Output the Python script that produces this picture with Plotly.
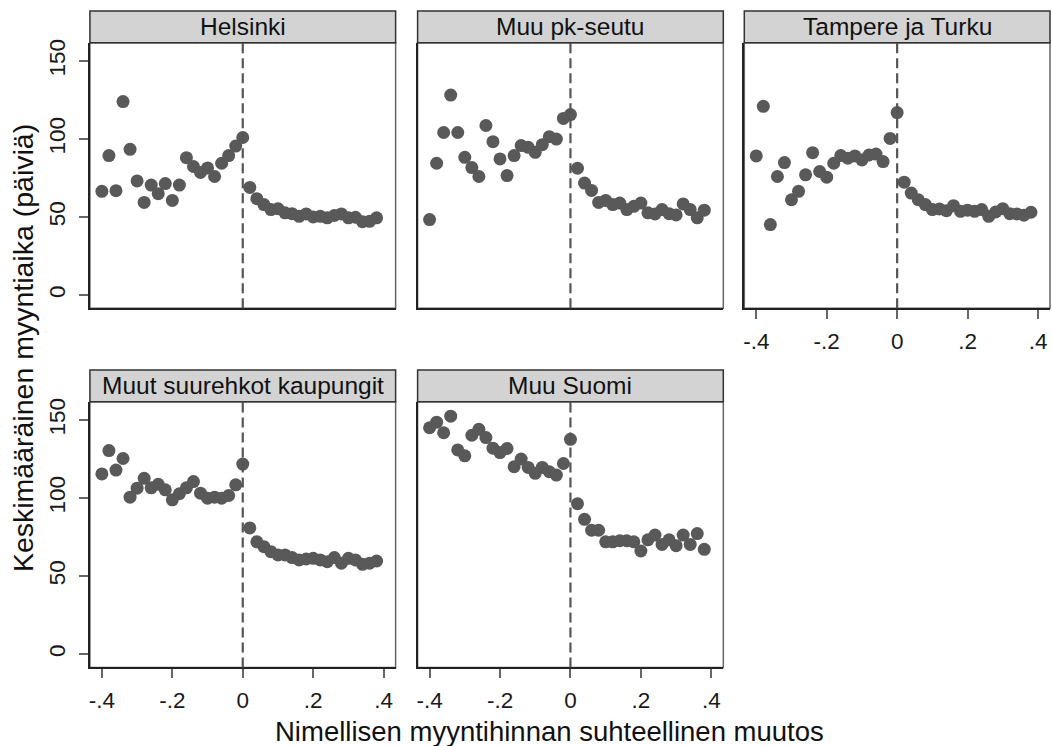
import plotly.graph_objects as go

x_vals = [round(-0.40 + 0.02 * i, 2) for i in range(40)]

panel_names = ["Helsinki", "Muu pk-seutu", "Tampere ja Turku",
               "Muut suurehkot kaupungit", "Muu Suomi"]

helsinki = [66.5, 89.4, 66.9, 124, 93.4, 73.2, 59.4, 70.5, 65, 71.5,
            60.7, 70.5, 88.1, 82.4, 78.6, 81.5, 76, 84.5, 89.4, 95.5,
            101, 69, 61.8, 58, 54.8, 55.4, 52.7, 52.2, 50.5, 52,
            50.1, 50.5, 49.5, 51, 52, 49.5, 49.9, 47, 47.3, 49.5]
muu_pk = [48.4, 84.5, 104.2, 128.2, 104.2, 88.3, 81.7, 76, 108.7, 98.3,
          87.3, 76.6, 89.4, 95.8, 94.7, 91.5, 96.4, 101.5, 100, 113.2,
          115.7, 81.3, 71.8, 67.1, 59.4, 60.7, 58, 59, 54.8, 56.9,
          59, 52.7, 52, 54.8, 52.2, 51.4, 58.4, 54.8, 49.5, 54.4]
tampere_turku = [89.2, 121, 45.2, 76, 84.9, 61.1, 66.5, 77.1, 91.3, 79.2,
                 75.6, 84.5, 89.4, 87.7, 89.2, 86.6, 89.8, 90.4, 85.6, 100.4,
                 117, 72.4, 65.4, 61.1, 58, 54.8, 55.2, 54.1, 57.3, 53.7,
                 54.4, 53.7, 54.8, 50.5, 53.3, 55.4, 52.2, 52, 51.2, 53.1]
muut_suurehkot = [115.5, 130.5, 118, 125.4, 100.6, 106.4, 112.7, 106.6, 108.9, 105.3,
                  98.9, 102.8, 106.6, 110.6, 103.2, 100, 100.6, 100, 101.7, 108.5,
                  121.8, 80.9, 72, 68.9, 65.7, 63.6, 63.6, 61.9, 60.4, 61,
                  61.4, 60.4, 59.3, 61.9, 58.3, 61.4, 60.4, 57.6, 58.3, 59.7]
muu_suomi = [145.1, 148.7, 141.9, 152.5, 130.9, 127.1, 140.3, 144.1, 138.8, 132,
             129.2, 131.8, 120.1, 125, 119.7, 115.9, 119.7, 116.9, 114.8, 122.2,
             137.7, 96.4, 86.4, 79.4, 79.4, 72, 72, 72.7, 72.7, 72,
             66.1, 73.3, 76.3, 70.3, 73.3, 69.5, 76.3, 70.3, 77.3, 67.2]

series = [helsinki, muu_pk, tampere_turku, muut_suurehkot, muu_suomi]

x_tickvals = [-0.4, -0.2, 0, 0.2, 0.4]
x_ticktext = ["-.4", "-.2", "0", ".2", ".4"]
y_tickvals = [0, 50, 100, 150]
y_ticktext = ["0", "50", "100", "150"]

W, H = 1052, 746
# panel pixel boxes (left, right, top, bottom)
col_px = [(89, 395), (417, 723), (744, 1050)]
row_px = [(39, 306), (400, 667)]
header_h = 32

positions = [(0, 0), (0, 1), (0, 2), (1, 0), (1, 1)]
show_x = [False, False, True, True, True]
show_y = [True, False, False, True, False]

FONT = "Liberation Sans, Arial, sans-serif"
MARK = "#595959"

fig = go.Figure()
layout = dict(
    width=W, height=H, margin=dict(l=0, r=0, t=0, b=0),
    paper_bgcolor="white", plot_bgcolor="white", showlegend=False,
    font=dict(family=FONT, color="#1a1a1a"),
)
shapes = []
annotations = []

for i, (r, c) in enumerate(positions):
    idx = "" if i == 0 else str(i + 1)
    xa, ya = "x" + idx, "y" + idx
    l, rr = col_px[c]
    t, b = row_px[r]
    fig.add_trace(go.Scatter(
        x=x_vals, y=series[i], mode="markers", xaxis=xa, yaxis=ya,
        marker=dict(size=13, color=MARK, line=dict(width=0)),
        hoverinfo="x+y",
    ))
    layout["xaxis" + idx] = dict(
        domain=[l / W, rr / W], anchor=ya, range=[-0.434, 0.434],
        showgrid=False, zeroline=False, showline=True, linecolor="#222",
        linewidth=2, mirror=False,
        tickvals=x_tickvals if show_x[i] else [], ticktext=x_ticktext,
        ticks="outside" if show_x[i] else "", ticklen=9, tickwidth=1.5,
        tickcolor="#666", showticklabels=show_x[i],
        tickfont=dict(size=22.5, family=FONT, color="#1a1a1a"),
        ticklabelstandoff=3,
    )
    layout["yaxis" + idx] = dict(
        domain=[1 - b / H, 1 - t / H], anchor=xa, range=[-8.5, 161.7],
        showgrid=False, zeroline=False, showline=True, linecolor="#222",
        linewidth=2, mirror=False,
        tickvals=y_tickvals if show_y[i] else [], ticktext=y_ticktext,
        ticks="outside" if show_y[i] else "", ticklen=9, tickwidth=1.5,
        tickcolor="#666", showticklabels=show_y[i], tickangle=-90,
        tickfont=dict(size=22.5, family=FONT, color="#1a1a1a"),
        ticklabelstandoff=5,
    )
    # gray frame (top/right)
    shapes.append(dict(type="rect", xref=xa + " domain", yref=ya + " domain",
                       x0=0, x1=1, y0=0, y1=1,
                       line=dict(color="#666", width=1.5), layer="below"))
    # dashed vertical line at zero
    shapes.append(dict(type="line", xref=xa, yref=ya + " domain",
                       x0=0, x1=0, y0=0, y1=1,
                       line=dict(color="#555", width=2.2, dash="10px,5px")))
    # header box
    shapes.append(dict(type="rect", xref="paper", yref="paper",
                       x0=l / W, x1=rr / W, y0=1 - t / H, y1=1 - (t - header_h) / H,
                       fillcolor="#d3d3d3", line=dict(color="#333", width=1.5)))
    annotations.append(dict(text=panel_names[i], xref="paper", yref="paper",
                            x=(l + rr) / 2 / W, y=1 - (t - header_h / 2) / H,
                            xanchor="center", yanchor="middle", showarrow=False,
                            font=dict(size=24.5, family=FONT, color="#111")))

annotations.append(dict(text="Keskimääräinen myyntiaika (päiviä)", xref="paper", yref="paper",
                        x=22 / W, y=1 - 346 / H, textangle=-90, showarrow=False,
                        xanchor="center", yanchor="middle",
                        font=dict(size=28.5, family=FONT, color="#111")))
annotations.append(dict(text="Nimellisen myyntihinnan suhteellinen muutos", xref="paper", yref="paper",
                        x=549 / W, y=1 - 731 / H, showarrow=False,
                        xanchor="center", yanchor="middle",
                        font=dict(size=27.5, family=FONT, color="#111")))

layout["shapes"] = shapes
layout["annotations"] = annotations
fig.update_layout(**layout)
fig.write_html("out.html")
